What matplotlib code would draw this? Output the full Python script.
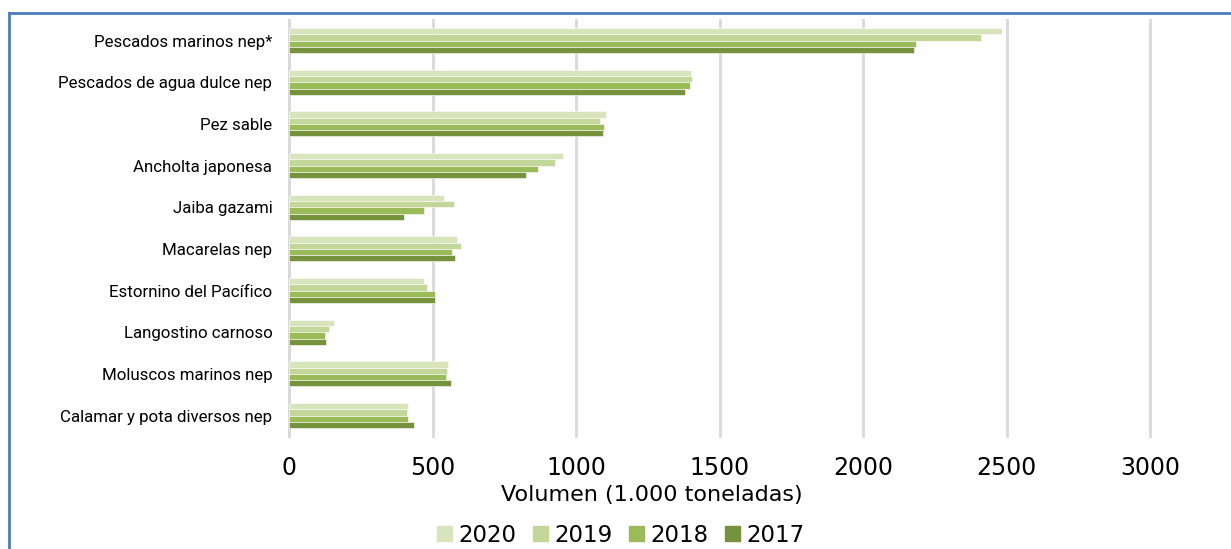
import matplotlib
matplotlib.use("Agg")
import matplotlib.pyplot as plt
import numpy as np
from matplotlib.lines import Line2D

categories = ["Pescados marinos nep*", "Pescados de agua dulce nep", "Pez sable",
              "Ancholta japonesa", "Jaiba gazami", "Macarelas nep",
              "Estornino del Pacífico", "Langostino carnoso", "Moluscos marinos nep",
              "Calamar y pota diversos nep"]
years = ["2020", "2019", "2018", "2017"]
v2020 = [2483, 1401, 1104, 956, 540, 585, 471, 157, 555, 415]
v2019 = [2411, 1404, 1083, 927, 576, 600, 480, 138, 551, 411]
v2018 = [2184, 1396, 1096, 866, 470, 569, 509, 127, 548, 415]
v2017 = [2177, 1378, 1094, 824, 399, 580, 509, 130, 564, 435]
colors = ["#d8e4bc", "#c4d79b", "#9bbb59", "#76923c"]

fig = plt.figure(figsize=(12.31, 5.49), dpi=100)
ax = fig.add_axes([0.2348, 0.205, 0.6994, 0.759])

series = [v2020, v2019, v2018, v2017]
y = np.arange(len(categories))
h = 0.15
for i, (vals, c, lab) in enumerate(zip(series, colors, years)):
    ax.barh(y - 1.5 * h + i * h, vals, height=h, color=c, edgecolor="white",
            linewidth=0.4, label=lab, zorder=3)

ax.set_ylim(len(categories) - 0.5, -0.5)
ax.set_xlim(0, 3000)
ax.set_xticks(np.arange(0, 3001, 500))
ax.grid(axis="x", color="#d9d9d9", linewidth=2, zorder=0)
for gl in ax.get_xgridlines():
    gl.set_clip_on(False)
ax.set_axisbelow(True)
for s in ["top", "right", "bottom"]:
    ax.spines[s].set_visible(False)
ax.spines["left"].set_color("#d9d9d9")
ax.spines["left"].set_linewidth(2)
ax.tick_params(axis="both", length=0)
ax.tick_params(axis="x", labelsize=17, pad=14)
ax.set_yticks(y)
ax.set_yticklabels(categories, fontsize=12.2, family=["Roboto", "DejaVu Sans"])
ax.tick_params(axis="y", pad=12)

fig.text(652 / 1231, 1 - 495 / 549, "Volumen (1.000 toneladas)", fontsize=16,
         ha="center", va="center")

handles = [plt.Rectangle((0, 0), 1, 1, color=c) for c in colors]
fig.legend(handles, years, loc="center", bbox_to_anchor=(621 / 1231, 1 - 535 / 549), ncol=4,
           frameon=False, fontsize=16.5, handlelength=0.65, handleheight=0.65,
           handletextpad=0.3, columnspacing=0.7, borderpad=0)

fig.add_artist(Line2D([9 / 1231, 1.0], [1 - 13 / 549, 1 - 13 / 549], color="#4a7ebb",
                      linewidth=2, transform=fig.transFigure))
fig.add_artist(Line2D([9 / 1231, 9 / 1231], [0, 1 - 13 / 549], color="#4a7ebb",
                      linewidth=2, transform=fig.transFigure))

fig.savefig("out.png", dpi=100)
